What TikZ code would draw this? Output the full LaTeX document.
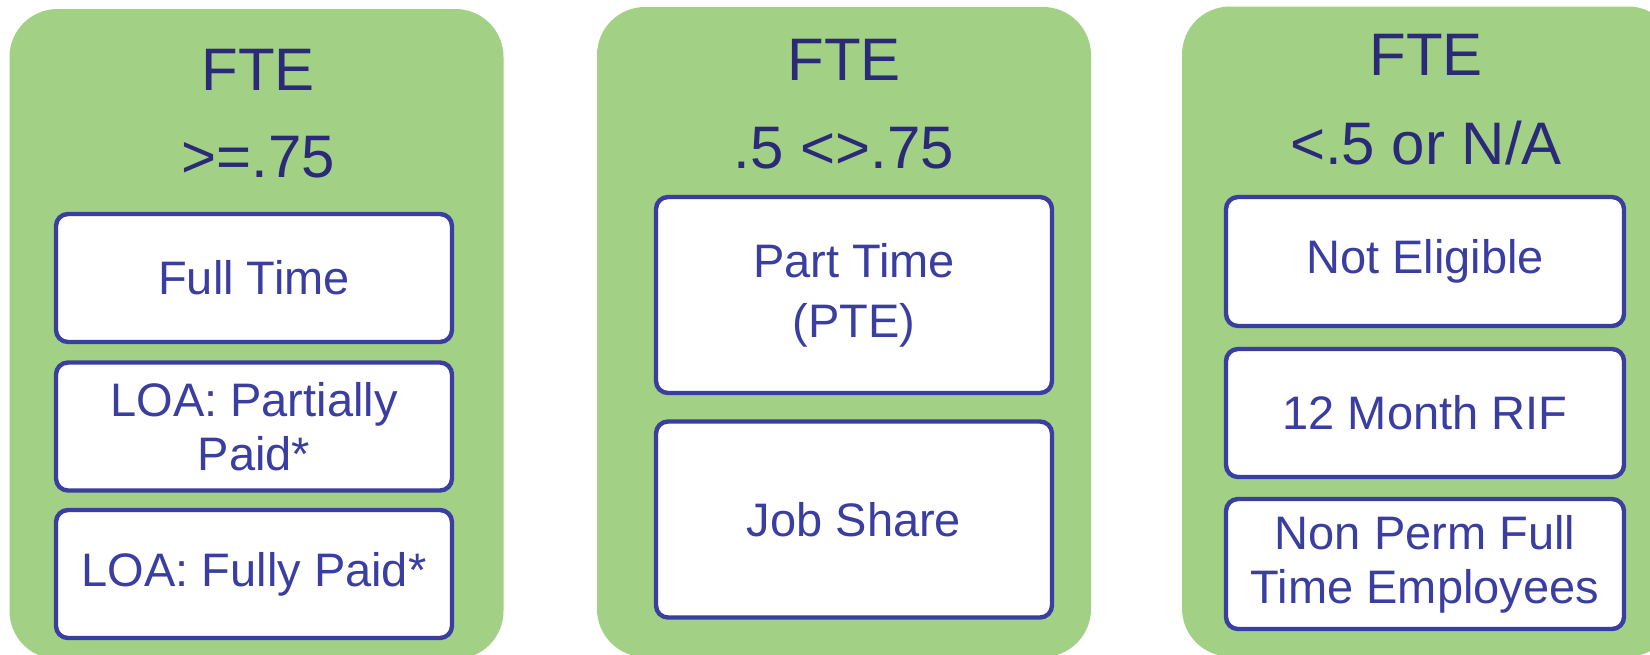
\documentclass[tikz,border=0pt]{standalone}
\usepackage{fontspec}
\setmainfont{Liberation Sans}
\usepackage{xcolor}
\definecolor{panelgreen}{RGB}{162,208,132}
\definecolor{headblue}{RGB}{42,42,120}
\definecolor{boxblue}{RGB}{58,62,160}

\begin{document}
\begin{tikzpicture}[x=0.5pt,y=-0.5pt,
  panel/.style={fill=panelgreen, rounded corners=24pt, minimum width=247pt, minimum height=325pt, inner sep=0pt},
  head/.style={text=headblue, inner sep=0pt, font=\fontsize{30}{34}\selectfont},
  slot/.style={draw=boxblue, line width=2.2pt, fill=white, rounded corners=6pt, minimum width=198pt,
    inner sep=0pt, text=boxblue, align=center, font=\fontsize{23.5}{27}\selectfont}]
\useasboundingbox (0,0) rectangle (1650,654);
\clip (0,0) rectangle (1650,654);

% green columns
\node[panel] (col1) at (256.5,334) {};
\node[panel] (col2) at (844,332) {};
\node[panel] (col3) at (1429,331.5) {};

% column headings
\node[head] (fte1) at (258,70) {FTE};   \node[head] (cut1) at (258,157) {>=.75};
\node[head] (fte2) at (844,60) {FTE};   \node[head] (cut2) at (844,148) {.5 <>.75};
\node[head] (fte3) at (1426,55) {FTE};  \node[head] (cut3) at (1426,143) {<.5 or N/A};

% first column
\node[slot, minimum height=64pt] (full) at (254,278) {Full Time};
\node[slot, minimum height=64pt] (loapart) at (254,426.5) {LOA: Partially\\Paid*};
\node[slot, minimum height=64pt] (loafull) at (254,574) {LOA: Fully Paid*};

% second column
\node[slot, minimum height=98pt] (part) at (854,295) {Part Time\\[3pt](PTE)};
\node[slot, minimum height=98pt] (share) at (854,519.5) {Job Share};

% third column
\node[slot, minimum width=199pt, minimum height=64.5pt] (noelig) at (1425,261.5) {Not Eligible};
\node[slot, minimum width=199pt, minimum height=64pt] (rif) at (1425,413) {12 Month RIF};
\node[slot, minimum width=199pt, minimum height=65pt] (nonperm) at (1425,564) {Non Perm Full\\Time Employees};
\end{tikzpicture}
\end{document}
